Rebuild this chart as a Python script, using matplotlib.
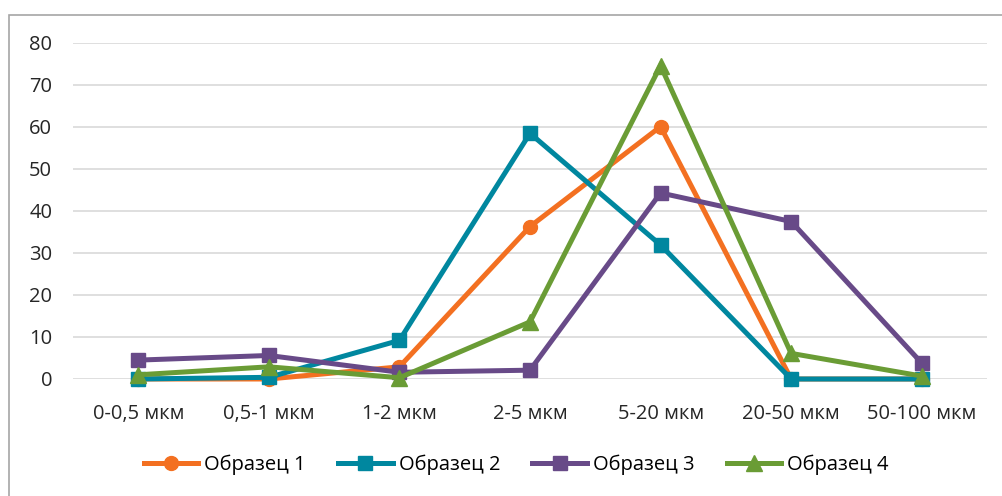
import matplotlib.pyplot as plt
from matplotlib.patches import Rectangle

plt.rcParams['font.family'] = ['Open Sans', 'DejaVu Sans']

# Распределение частиц по размерам
razmery = ["0-0,5 мкм", "0,5-1 мкм", "1-2 мкм", "2-5 мкм", "5-20 мкм", "20-50 мкм", "50-100 мкм"]
obrazec_1 = [0, 0, 2.9, 36.3, 60.1, 0, 0]
obrazec_2 = [0, 0.4, 9.2, 58.5, 31.9, 0, 0]
obrazec_3 = [4.5, 5.6, 1.6, 2.1, 44.3, 37.5, 3.8]
obrazec_4 = [1.0, 2.9, 0.3, 13.6, 74.6, 6.1, 0.7]

serii = [
    ("Образец 1", obrazec_1, "#F37021", "o", 10),
    ("Образец 2", obrazec_2, "#00879F", "s", 10),
    ("Образец 3", obrazec_3, "#684A88", "s", 10),
    ("Образец 4", obrazec_4, "#6A9C35", "^", 11),
]

fig = plt.figure(figsize=(10.02, 4.96), dpi=100)
ax = fig.add_axes([73 / 1002, 1 - 379 / 496, 914 / 1002, 336 / 496])

x = list(range(len(razmery)))
for nazvanie, znach, cvet, marker, ms in serii:
    ax.plot(x, znach, color=cvet, linewidth=3.6, marker=marker, markersize=ms,
            label=nazvanie, solid_joinstyle='miter')

ax.set_xlim(-0.5, len(razmery) - 0.5)
ax.set_ylim(0, 80)
ax.set_yticks(range(0, 81, 10))
ax.set_xticks(x)
ax.set_xticklabels(razmery)
ax.grid(axis='y', color='#d9d9d9', linewidth=1.2)
ax.set_axisbelow(True)
for s in ax.spines.values():
    s.set_visible(False)
ax.tick_params(axis='both', length=0, labelsize=14.5, colors='#262626')
ax.tick_params(axis='x', pad=18)
ax.tick_params(axis='y', pad=15)
for line in ax.lines:
    line.set_clip_on(False)

ax.legend(loc='center', bbox_to_anchor=(0.485, (379 - 465) / 336), ncol=4, frameon=False,
          fontsize=14.5, handlelength=2.7, handletextpad=0.3, columnspacing=1.6)

# Рамка области диаграммы
fig.patches.append(Rectangle((9 / 1002, -0.1), 1.2, 1 - 15 / 496 + 0.1, transform=fig.transFigure,
                             fill=False, edgecolor='#a6a6a6', linewidth=1.2))

fig.savefig("out.png", dpi=100)
